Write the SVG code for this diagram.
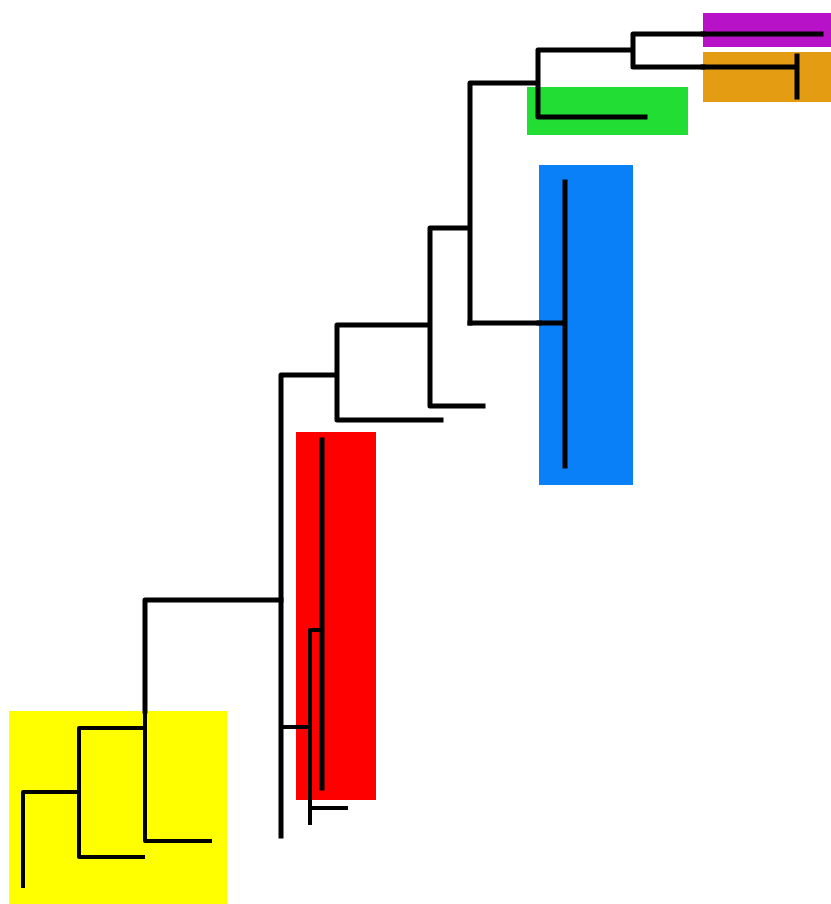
<svg xmlns="http://www.w3.org/2000/svg" width="831" height="904" viewBox="0 0 831 904">
<style>
.br{fill:none;stroke:#000;stroke-width:5;stroke-linejoin:round;stroke-linecap:square}
.thin{stroke-width:4}
</style>
<rect width="831" height="904" fill="#fff"/>
<g id="yellow-clade"><rect x="9" y="711" width="218" height="193" fill="#ffff00"/></g>
<g id="red-clade"><rect x="296" y="432" width="80" height="368" fill="#ff0000"/></g>
<g id="blue-clade"><rect x="539" y="165" width="94" height="320" fill="#0a80f8"/></g>
<g id="green-clade"><rect x="527" y="87" width="161" height="48" fill="#22dd33"/></g>
<g id="purple-clade"><rect x="703" y="13" width="128" height="34" fill="#b812c8"/></g>
<g id="orange-clade"><rect x="703" y="52" width="128" height="50" fill="#e49c12"/></g>
<g id="connectors">
<path class="br" d="M145,711 V600 H281"/>
<path class="br thin" stroke="#201a00" d="M210,841 H145 V711 M145,728 H79 V857 H143 M79,792 H23 V886"/>
<path class="br" d="M281,836 V375 H337 M441,420 H337 V325 H430 M483,406 H430 V228 H470 M470,323 V83 H538 M633,50 H538 V117 H645 M703,34 H633 V67 H703"/>
<path class="br" d="M470,323 H539"/>
<path class="br" stroke="#0a1a60" d="M539,323 H565 M565,182 V466"/>
<path class="br" stroke="#3c0848" d="M703,34 H821"/>
<path class="br" stroke="#3a2200" d="M703,67 H797 M797,56 V97"/>
<path class="br thin" d="M281,727 H296 M310,800 V823 M310,808 H346"/>
<path class="br thin" stroke="#300000" d="M296,727 H310 M310,800 V630 H322"/>
<path class="br" stroke="#9a0000" stroke-width="6" d="M322,440 V788"/>
</g>
</svg>
